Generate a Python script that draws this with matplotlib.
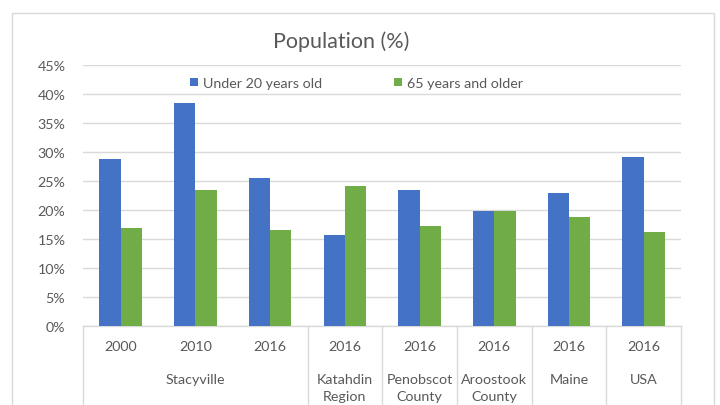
import matplotlib
matplotlib.use("Agg")
import matplotlib.pyplot as plt
from matplotlib.patches import Rectangle, Patch
import matplotlib.transforms as mtransforms
import numpy as np

years = ["2000", "2010", "2016", "2016", "2016", "2016", "2016", "2016"]
groups = ["Stacyville", "Katahdin\nRegion", "Penobscot\nCounty", "Aroostook\nCounty", "Maine", "USA"]
group_sizes = [3, 1, 1, 1, 1, 1]
under20 = [28.8, 38.4, 25.6, 15.8, 23.5, 19.8, 23.0, 29.2]
over65 = [16.9, 23.4, 16.6, 24.2, 17.3, 19.8, 18.9, 16.2]
series_names = ["Under 20 years old", "65 years and older"]
yticks = [0, 5, 10, 15, 20, 25, 30, 35, 40, 45]

BLUE = "#4472C4"
GREEN = "#70AD47"
TXT = "#595959"
GRID = "#D9D9D9"

plt.rcParams['font.family'] = ['Lato', 'DejaVu Sans']

W, H = 720, 406
fig = plt.figure(figsize=(W / 100, H / 100), dpi=100)
fig.patch.set_facecolor("white")

# chart border
fig.patches.append(Rectangle((12 / W, -0.05), (714 - 12) / W, (H - 14) / H + 0.05,
                             transform=fig.transFigure, fill=False,
                             edgecolor=GRID, linewidth=1.0))

left, right = 83.4, 681
bottom_px, top_px = 327.3, 66
ax = fig.add_axes([left / W, (H - bottom_px) / H, (right - left) / W, (bottom_px - top_px) / H])

n = len(years)
x = np.arange(n)
bw = 0.285
ax.bar(x - bw / 2, under20, width=bw, color=BLUE, label=series_names[0], zorder=3)
ax.bar(x + bw / 2, over65, width=bw, color=GREEN, label=series_names[1], zorder=3)

ax.set_xlim(-0.5, n - 0.5)
ax.set_ylim(0, 45)
ax.set_yticks(yticks)
ax.set_yticklabels([f"{v}%" for v in yticks], fontsize=10.3, color=TXT)
ax.tick_params(axis='y', length=0, pad=13)
ax.set_xticks([])
ax.yaxis.grid(True, color=GRID, linewidth=1.0, zorder=0)
for s in ["top", "right", "left"]:
    ax.spines[s].set_visible(False)
ax.spines["bottom"].set_color(GRID)
ax.spines["bottom"].set_linewidth(1.0)

trans = mtransforms.blended_transform_factory(ax.transData, ax.transAxes)
axh = (bottom_px - top_px)
# year labels
for i, yr in enumerate(years):
    ax.text(i, -(347 - bottom_px) / axh, yr, transform=trans, ha='center', va='center',
            fontsize=10.3, color=TXT)
# group labels and separators
start = 0
bounds = [-0.5]
for g, sz in zip(groups, group_sizes):
    center = start + (sz - 1) / 2
    ax.text(center, -(374.5 - bottom_px) / axh, g, transform=trans, ha='center', va='top',
            fontsize=10.3, color=TXT, linespacing=1.5)
    start += sz
    bounds.append(start - 0.5)
for b in bounds:
    ax.plot([b, b], [0, -(420 - bottom_px) / axh], transform=trans, color=GRID,
            linewidth=1.0, clip_on=False)

handles = [Patch(facecolor=BLUE), Patch(facecolor=GREEN)]
leg = ax.legend(handles, series_names, loc='center', bbox_to_anchor=(0.457, 0.931),
                ncol=2, frameon=False, fontsize=10.3, handlelength=0.55, handleheight=0.55,
                handletextpad=0.35, columnspacing=5.0, labelcolor=TXT)

fig.text(341 / W, (H - 42) / H, "Population (%)", ha='center', va='center',
         fontsize=15.5, color=TXT)

fig.savefig("out.png", dpi=100)
